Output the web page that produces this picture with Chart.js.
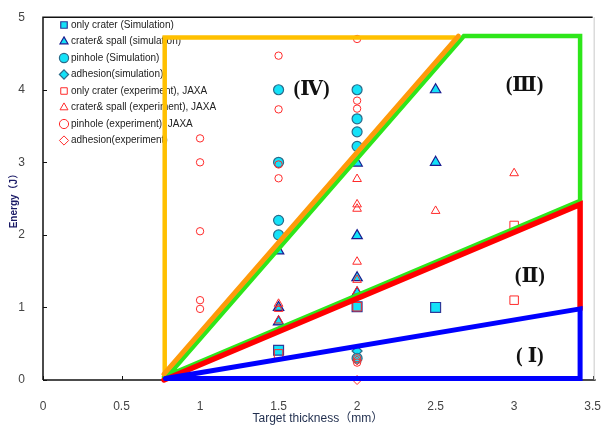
<!DOCTYPE html>
<html><head><meta charset="utf-8">
<script src="https://cdn.jsdelivr.net/npm/chart.js@4/dist/chart.umd.min.js"></script>
<style>html,body{margin:0;padding:0;background:#fff}</style>
</head><body>
<canvas id="c" width="612" height="430"></canvas>
<script>
// ---- tick labels ----
const xTickValues = [0, 0.5, 1, 1.5, 2, 2.5, 3, 3.5];
const yTickValues = [0, 1, 2, 3, 4, 5];

// ---- series (x = target thickness mm, y = energy J) ----
const simOnlyCrater   = [[1.5,0.41],[2,1.01],[2.5,1.0]];
const simCraterSpall  = [[1.5,1.78],[1.5,1.0],[1.5,0.8],[2,2.99],[2,1.99],[2,1.41],[2,1.2],[2.5,4.0],[2.5,3.0]];
const simPinhole      = [[1.5,4.0],[1.5,3.0],[1.5,2.2],[1.5,2.0],[2,4.0],[2,3.6],[2,3.42],[2,3.22],[2,0.3]];
const simAdhesion     = [[2,0.4]];
const expOnlyCrater   = [[1.5,0.36],[2,1.01],[3,2.13],[3,1.1]];
const expCraterSpall  = [[1.5,1.05],[1.5,0.98],[1.5,0.82],[2,2.77],[2,2.42],[2,2.36],[2,1.63],[2,1.38],[2,1.22],[2.5,2.33],[3,2.85]];
const expPinhole      = [[1,3.33],[1,3.0],[1,2.05],[1,1.1],[1,0.98],[1.5,4.47],[1.5,3.73],[1.5,2.97],[1.5,2.78],[2,4.7],[2,3.85],[2,3.74],[2,0.3],[2,0.24]];
const expAdhesion     = [[2,0.27],[2,0.0]];

// ---- region boundary polylines ----
const goldBoundary   = [[0.775,0.12],[0.775,4.72],[2.62,4.72]];
const greenBoundary  = [[0.78,0.02],[2.68,4.74],[3.42,4.74],[3.42,2.47],[0.77,0.04]];
const orangeBoundary = [[0.77,0.08],[2.645,4.74]];
const redBoundary    = [[0.77,0.0],[3.42,2.42],[3.42,0.98]];
const blueBoundary   = [[0.78,0.02],[3.42,0.98],[3.42,0.02],[0.78,0.02]];

// ---- region labels ----
const regionNames = ['(Ⅳ)', '(Ⅲ)', '(Ⅱ)', '( Ⅰ)'];
const regionX = [1.71, 3.066, 3.10, 3.10];
const regionY = [4.0, 4.05, 1.42, 0.32];

const seriesLabels = ['only crater (Simulation)','crater& spall (simulation)','pinhole (Simulation)','adhesion(simulation)',
  'only crater (experiment), JAXA','crater& spall (experiment), JAXA','pinhole (experiment), JAXA','adhesion(experiment)'];

const pts = a => a.map(([x,y]) => ({x, y}));
const CYAN = '#14E2F8';
const RED = '#FF2A2A';

function sim(label, data, style, radius, border) {
  return {label, data: pts(data), pointStyle: style, pointRadius: radius, pointHoverRadius: radius,
    backgroundColor: CYAN, borderColor: border, borderWidth: 1.2, order: 11, clip: false};
}
function exp(label, data, style, radius) {
  return {label, data: pts(data), pointStyle: style, pointRadius: radius, pointHoverRadius: radius,
    backgroundColor: 'rgba(0,0,0,0)', borderColor: RED, borderWidth: 1, order: 10, clip: false};
}
function line(data, color, width, order) {
  return {label: '_line', data: pts(data), showLine: true, pointRadius: 0, borderColor: color,
    backgroundColor: color, borderWidth: width, fill: false, tension: 0, order, clip: false,
    borderCapStyle: 'round', borderJoinStyle: 'miter'};
}

const datasets = [
  sim(seriesLabels[0], simOnlyCrater, 'rect', 7, '#2E3A99'),
  sim(seriesLabels[1], simCraterSpall, 'triangle', 6, '#1B1B8F'),
  sim(seriesLabels[2], simPinhole, 'circle', 5, '#2A6B8A'),
  sim(seriesLabels[3], simAdhesion, 'rectRot', 5, '#2A6B8A'),
  exp(seriesLabels[4], expOnlyCrater, 'rect', 6),
  exp(seriesLabels[5], expCraterSpall, 'triangle', 5),
  exp(seriesLabels[6], expPinhole, 'circle', 3.7),
  exp(seriesLabels[7], expAdhesion, 'rectRot', 4.5),
  line(goldBoundary, '#FFC000', 4.5, 5),
  line(greenBoundary, '#2EE61A', 4.5, 4),
  line(orangeBoundary, '#FF9A0A', 5, 3),
  line(redBoundary, '#FF0000', 5.5, 2),
  line(blueBoundary, '#0000FF', 5, 1)
];

const framePlugin = {
  id: 'frame',
  beforeDraw(chart) {
    const lg = chart.legend;
    if (lg) { lg.left = 55.5; lg.top = 13.5; lg.right = 300; lg.bottom = 370; }
  },
  beforeDatasetsDraw(chart) {
    const {ctx, chartArea: a, scales} = chart;
    ctx.save();
    ctx.strokeStyle = '#111';
    ctx.lineWidth = 1;
    scales.y.ticks.forEach(t => {
      const p = Math.round(scales.y.getPixelForValue(t.value)) + 0.5;
      ctx.beginPath(); ctx.moveTo(a.left, p); ctx.lineTo(a.left + 4, p); ctx.stroke();
    });
    scales.x.ticks.forEach(t => {
      const p = Math.round(scales.x.getPixelForValue(t.value)) + 0.5;
      ctx.beginPath(); ctx.moveTo(p, a.bottom); ctx.lineTo(p, a.bottom - 4); ctx.stroke();
    });
    ctx.lineWidth = 1.5;
    ctx.strokeStyle = '#111';
    ctx.beginPath(); ctx.moveTo(a.left, a.bottom); ctx.lineTo(a.left, a.top); ctx.lineTo(a.right, a.top); ctx.stroke();
    ctx.beginPath(); ctx.moveTo(a.left, a.bottom); ctx.lineTo(a.right + 3, a.bottom); ctx.stroke();
    ctx.strokeStyle = '#C8C8C8';
    ctx.lineWidth = 1;
    ctx.beginPath(); ctx.moveTo(a.right + 1.5, a.top); ctx.lineTo(a.right + 1.5, a.bottom); ctx.stroke();
    ctx.restore();
  },
  afterDatasetsDraw(chart) {
    const {ctx, scales} = chart;
    ctx.save();
    ctx.fillStyle = '#111';
    ctx.font = "bold 20px 'Liberation Serif', 'DejaVu Serif', serif";
    ctx.textAlign = 'center';
    ctx.textBaseline = 'middle';
    regionNames.forEach((n, i) => {
      ctx.fillText(n, scales.x.getPixelForValue(regionX[i]), scales.y.getPixelForValue(regionY[i]));
    });
    ctx.restore();
  }
};

new Chart(document.getElementById('c'), {
  type: 'scatter',
  data: {datasets},
  plugins: [framePlugin],
  options: {
    responsive: false,
    animation: false,
    devicePixelRatio: 1,
    layout: {padding: {top: 15, right: 7, left: 0, bottom: 0}},
    plugins: {
      tooltip: {enabled: false},
      legend: {
        position: 'chartArea',
        align: 'start',
        labels: {
          usePointStyle: true,
          boxWidth: 4,
          boxHeight: 6.5,
          padding: 6.5,
          color: '#222',
          font: {size: 10, family: "'Liberation Sans', 'DejaVu Sans', sans-serif"},
          filter: item => item.text !== '_line',
          sort: (a, b) => a.datasetIndex - b.datasetIndex
        }
      }
    },
    scales: {
      x: {
        type: 'linear', min: 0, max: 3.5,
        afterBuildTicks: s => { s.ticks = xTickValues.map(v => ({value: v})); },
        afterFit: s => { s.height = 50; },
        grid: {display: false},
        border: {display: false},
        ticks: {padding: 11, color: '#444', font: {size: 12, family: "'Liberation Sans', sans-serif"}, maxRotation: 0,
          callback: v => String(v)},
        title: {display: true, text: 'Target thickness（mm）', color: '#1F2D4D',
          font: {size: 12, family: "'Liberation Sans', 'Noto Sans CJK JP', sans-serif"}, padding: {top: 0, bottom: 4}}
      },
      y: {
        type: 'linear', min: 0, max: 5,
        afterBuildTicks: s => { s.ticks = yTickValues.map(v => ({value: v})); },
        afterFit: s => { s.width = 43; },
        grid: {display: false},
        border: {display: false},
        ticks: {padding: 10, color: '#444', font: {size: 12, family: "'Liberation Sans', sans-serif"},
          callback: v => String(v)},
        title: {display: true, text: 'Energy（J）', color: '#1A1A66',
          font: {size: 10, weight: 'bold', family: "'Liberation Sans', 'Noto Sans CJK JP', sans-serif"}, padding: {top: 8, bottom: 0}}
      }
    }
  }
});
</script>
</body></html>
